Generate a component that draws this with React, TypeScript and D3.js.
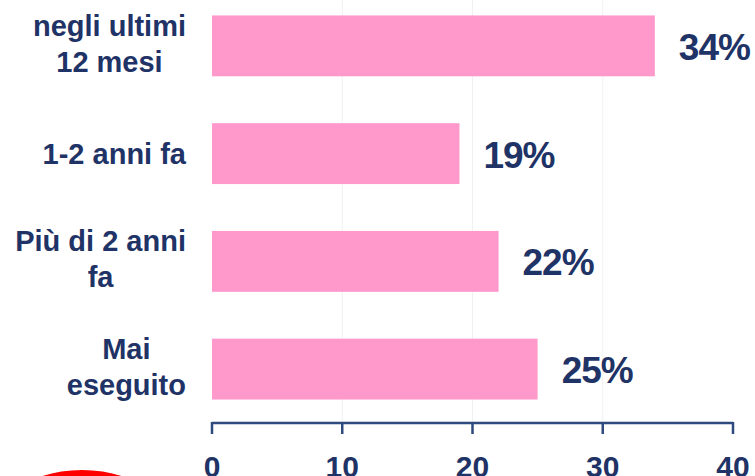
import React, { useEffect, useRef } from "react";
import * as d3 from "d3";

// chart data
const categories = ["negli ultimi 12 mesi", "1-2 anni fa", "Più di 2 anni fa", "Mai eseguito"];
const categoryLines = [["negli ultimi", "12 mesi"], ["1-2 anni fa"], ["Più di 2 anni", "fa"], ["Mai", "eseguito"]];
const values = [34, 19, 22, 25];
const xTicks = [0, 10, 20, 30, 40];

const W = 755;
const H = 476;
const NAVY = "#1F3366";
const PINK = "#FF99CC";
const FONT = "'Liberation Sans', Arial, sans-serif";

const App = () => {
  const ref = useRef<SVGSVGElement>(null);

  useEffect(() => {
    const svg = d3.select(ref.current);
    svg.selectAll("*").remove();

    const x = d3.scaleLinear().domain([0, 40]).range([212, 733]);
    const y = d3
      .scaleBand<string>()
      .domain(categories)
      .range([-8, 423])
      .paddingInner(0.435)
      .paddingOuter(0.2175);

    // faint gridlines
    svg
      .selectAll(".grid")
      .data(xTicks.slice(1, -1))
      .enter()
      .append("line")
      .attr("x1", (d) => x(d))
      .attr("x2", (d) => x(d))
      .attr("y1", 0)
      .attr("y2", 423)
      .attr("stroke", "#F1F1F1")
      .attr("stroke-width", 1);

    // bars
    svg
      .selectAll(".bar")
      .data(values)
      .enter()
      .append("rect")
      .attr("class", "bar")
      .attr("x", x(0))
      .attr("y", (d, i) => y(categories[i])!)
      .attr("width", (d) => x(d) - x(0))
      .attr("height", y.bandwidth())
      .attr("fill", PINK);

    // value labels
    svg
      .selectAll(".val")
      .data(values)
      .enter()
      .append("text")
      .attr("x", (d) => x(d) + 24)
      .attr("y", (d, i) => y(categories[i])! + y.bandwidth() / 2 + 14)
      .attr("font-family", FONT)
      .attr("font-weight", "bold")
      .attr("font-size", 37)
      .attr("letter-spacing", -1)
      .attr("fill", NAVY)
      .text((d) => `${d}%`);

    // category labels: lines centred within a right-aligned block
    const rightEdge = 186;
    categoryLines.forEach((lines, i) => {
      const cy = y(categories[i])! + y.bandwidth() / 2;
      const lh = 36;
      const first = lines.length === 1 ? cy + 10 : cy - 10;
      const texts = lines.map((ln, j) =>
        svg
          .append("text")
          .attr("y", first + j * lh)
          .attr("font-family", FONT)
          .attr("font-weight", "bold")
          .attr("font-size", 29)
          .attr("text-anchor", "middle")
          .attr("fill", NAVY)
          .text(ln)
      );
      const maxW = d3.max(texts, (t) => (t.node() as SVGTextElement).getComputedTextLength()) || 0;
      texts.forEach((t) => t.attr("x", rightEdge - maxW / 2));
    });

    // axis
    const axis = svg.append("g");
    axis
      .append("line")
      .attr("x1", x(0))
      .attr("x2", x(40))
      .attr("y1", 423)
      .attr("y2", 423)
      .attr("stroke", "#2E4A7E")
      .attr("stroke-width", 2.5);
    axis
      .selectAll(".tick")
      .data(xTicks)
      .enter()
      .append("line")
      .attr("x1", (d) => x(d))
      .attr("x2", (d) => x(d))
      .attr("y1", 422)
      .attr("y2", 434)
      .attr("stroke", "#2E4A7E")
      .attr("stroke-width", 2.5);
    axis
      .selectAll(".tl")
      .data(xTicks)
      .enter()
      .append("text")
      .attr("x", (d) => x(d))
      .attr("y", 477)
      .attr("text-anchor", "middle")
      .attr("font-family", FONT)
      .attr("font-weight", "bold")
      .attr("font-size", 30)
      .attr("fill", NAVY)
      .text((d) => d);

    // red ellipse mark, bottom left
    svg
      .append("ellipse")
      .attr("cx", 82)
      .attr("cy", 530)
      .attr("rx", 85)
      .attr("ry", 56)
      .attr("fill", "none")
      .attr("stroke", "#FF0000")
      .attr("stroke-width", 8);
  }, []);

  return (
    <svg
      ref={ref}
      width={W}
      height={H}
      style={{ position: "absolute", left: 0, top: 0, background: "#fff" }}
    />
  );
};

export default App;
